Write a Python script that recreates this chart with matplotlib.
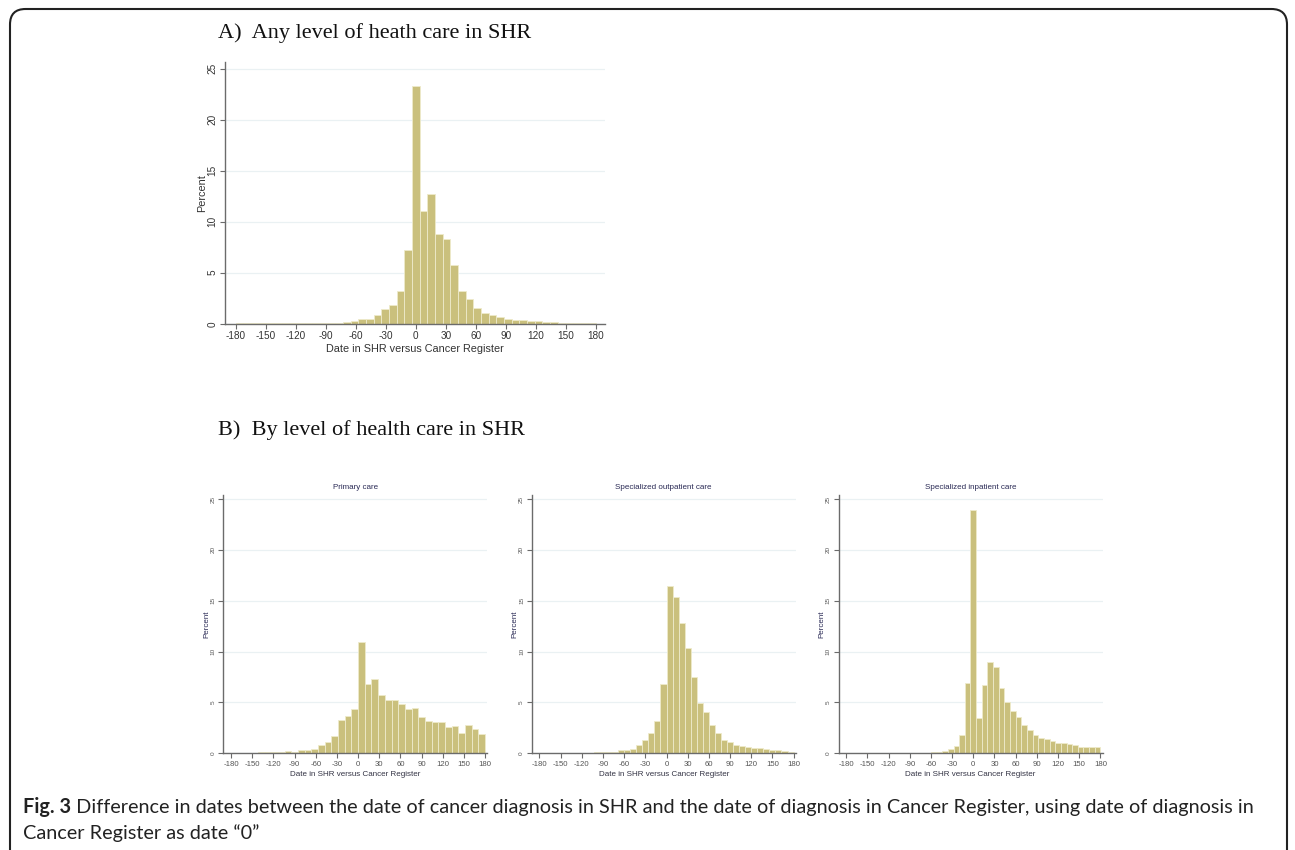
import numpy as np
import matplotlib
matplotlib.use("Agg")
import matplotlib.pyplot as plt
from matplotlib.patches import FancyBboxPatch

# ---------------- data ----------------
x_ticks = [-180, -150, -120, -90, -60, -30, 0, 30, 60, 90, 120, 150, 180]
y_ticks = [0, 5, 10, 15, 20, 25]

# Panel A: any level of health care (47 bins over -180..180)
any_care = [0.02, 0.02, 0.02, 0.02, 0.03, 0.03, 0.03, 0.04, 0.04, 0.05, 0.06, 0.07,
            0.08, 0.10, 0.13, 0.23, 0.42, 0.42, 0.82, 1.44, 1.83, 3.24, 7.22,
            23.3,
            11.0, 12.7, 8.8, 8.27, 5.8, 3.17, 2.42, 1.57, 1.08, 0.82, 0.62, 0.46,
            0.39, 0.33, 0.26, 0.23, 0.16, 0.13, 0.10, 0.09, 0.07, 0.06, 0.05]

# Panel B
primary_care = [0.02, 0.03, 0.04, 0.05, 0.10, 0.10, 0.10, 0.13, 0.20, 0.15, 0.35,
                0.35, 0.45, 0.85, 1.10, 1.75, 3.25, 3.68, 4.40,
                10.9, 6.8, 7.3, 5.7, 5.2, 5.25, 4.85, 4.4, 4.5, 3.6, 3.15, 3.05,
                3.1, 2.6, 2.7, 2.0, 2.8, 2.4, 1.9]
outpatient_care = [0.02, 0.02, 0.02, 0.02, 0.03, 0.03, 0.04, 0.05, 0.06, 0.08, 0.10,
                   0.13, 0.17, 0.30, 0.33, 0.46, 0.82, 1.27, 1.98, 3.20, 6.85,
                   16.5, 15.4, 12.8, 10.4, 7.5, 4.97, 4.1, 2.8, 2.0, 1.35, 1.1, 0.8,
                   0.7, 0.6, 0.55, 0.48, 0.4, 0.3, 0.3, 0.22, 0.17]
inpatient_care = [0.02, 0.02, 0.02, 0.02, 0.02, 0.02, 0.03, 0.03, 0.03, 0.03, 0.04,
                  0.04, 0.05, 0.05, 0.07, 0.10, 0.13, 0.20, 0.42, 0.75, 1.80, 6.95,
                  23.9, 3.5, 6.75, 9.0, 8.45, 6.45, 5.08, 4.2, 3.58, 2.82, 2.3, 1.8,
                  1.5, 1.38, 1.25, 1.02, 0.98, 0.92, 0.82, 0.66, 0.66, 0.66, 0.66]

title_a = "A)  Any level of heath care in SHR"
title_b = "B)  By level of health care in SHR"
sub_titles = ["Primary care", "Specialized outpatient care", "Specialized inpatient care"]
xlab = "Date in SHR versus Cancer Register"
ylab = "Percent"
cap_bold = "Fig. 3"
cap_line1 = " Difference in dates between the date of cancer diagnosis in SHR and the date of diagnosis in Cancer Register, using date of diagnosis in"
cap_line2 = "Cancer Register as date \u201c0\u201d"

# ---------------- style ----------------
W, H = 1295, 850
fig = plt.figure(figsize=(W / 100, H / 100), dpi=100)
plt.rcParams['font.family'] = ['Liberation Sans', 'DejaVu Sans']

BAR = '#CAC07D'
EDGE = '#EEEACB'
GRID = '#EAF1F3'
SPINE = '#6b6b6b'


def fx(px):
    return px / W


def fy(py):
    return 1 - py / H


def hist_axes(ax, values, tick_fs, ytick_fs, lab_fs, lab_color, tick_color, ylab_color, ylpad):
    n = len(values)
    edges = np.linspace(-180, 180, n + 1)
    width = edges[1] - edges[0]
    ax.bar(edges[:-1], values, width=width, align='edge', color=BAR,
           edgecolor=EDGE, linewidth=0.6, zorder=2)
    ax.set_yticks(y_ticks)
    ax.set_xticks(x_ticks)
    ax.set_xticklabels([str(t) for t in x_ticks], fontsize=tick_fs, color=tick_color)
    ax.set_yticklabels([str(t) for t in y_ticks], fontsize=ytick_fs, color=tick_color,
                       rotation=90, va='center')
    ax.grid(axis='y', color=GRID, linewidth=0.9, zorder=0)
    ax.set_axisbelow(True)
    for s in ['top', 'right']:
        ax.spines[s].set_visible(False)
    for s in ['left', 'bottom']:
        ax.spines[s].set_color(SPINE)
        ax.spines[s].set_linewidth(1.0)
    ax.tick_params(axis='both', direction='out', length=3.5, width=0.8, color=SPINE, pad=2)
    ax.set_xlabel(xlab, fontsize=lab_fs, color=lab_color, labelpad=2)
    ax.set_ylabel(ylab, fontsize=lab_fs, color=ylab_color, labelpad=ylpad)


# Panel A axes
axA = fig.add_axes([fx(225), fy(323.7), fx(380), (323.7 - 62) / H])
hist_axes(axA, any_care, 7.2, 7.2, 7.8, '#333333', '#333333', '#333333', 0.5)
axA.set_xlim(-190.7, 189.0)
axA.set_ylim(0, 25.65)

# Panel B axes
lefts = [223.3, 531.7, 838.5]
for left, vals, st in zip(lefts, [primary_care, outpatient_care, inpatient_care], sub_titles):
    ax = fig.add_axes([fx(left), fy(753.3), fx(264), (753.3 - 495) / H])
    hist_axes(ax, vals, 5.6, 4.6, 5.8, '#333344', '#555555', '#2a2a55', 0.5)
    ax.set_xlim(-191, 183)
    ax.set_ylim(0, 25.4)
    ax.set_title(st, fontsize=5.8, color='#2a2a55', pad=4)

# Panel headings
fig.text(fx(218), fy(33), title_a, fontsize=16, family='Liberation Serif',
         ha='left', va='center', color='#111111')
fig.text(fx(218), fy(430), title_b, fontsize=16, family='Liberation Serif',
         ha='left', va='center', color='#111111')

# Frame
frame = FancyBboxPatch((fx(10), fy(880)), fx(1277), (880 - 9) / H,
                       boxstyle="round,pad=0,rounding_size=0.012",
                       transform=fig.transFigure, fill=False,
                       edgecolor='#222222', linewidth=1.5,
                       mutation_aspect=W / H)
fig.add_artist(frame)

# Caption
cap_font = ['Lato', 'DejaVu Sans']
cap_fs = 14.35
cap_x = 23
t1 = fig.text(fx(cap_x), fy(807), cap_bold, fontsize=cap_fs, family=cap_font,
              fontweight='bold', ha='left', va='center', color='#222222')
fig.canvas.draw()
r = fig.canvas.get_renderer()
bb = t1.get_window_extent(renderer=r)
fig.text(bb.x1 / W, fy(807), cap_line1, fontsize=cap_fs, family=cap_font,
         ha='left', va='center', color='#222222')
fig.text(fx(cap_x), fy(833), cap_line2, fontsize=cap_fs, family=cap_font,
         ha='left', va='center', color='#222222')

fig.savefig("out.png", dpi=100, facecolor='white')
